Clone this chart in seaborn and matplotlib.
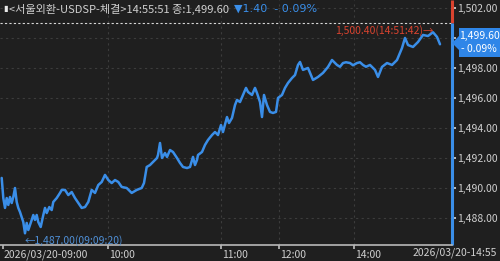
import numpy as np
import pandas as pd
import seaborn as sns
import matplotlib
matplotlib.use("Agg")
import matplotlib.pyplot as plt
import matplotlib.transforms as mtransforms
from matplotlib.patches import Polygon

# ---- data (tick index along the chart's x-axis, price) ----
tick_idx = [1.7, 3.3, 5, 6.7, 8.3, 10, 11.7, 13.3, 15, 16.7, 18.3, 20, 23.3, 25, 26.7, 28.3,
            30, 31.7, 33.3, 35, 36.7, 38.3, 40.7, 43.3, 45, 46.7, 49.3, 51.7, 53.3, 56.7, 60,
            61.7, 65, 68.3, 71.7, 75, 78.3, 81.7, 85, 88.3, 91.7, 95, 98.3, 101.7, 105, 108.3,
            111.7, 115, 118.3, 121.7, 126.7, 131.7, 136.7, 141.7, 144, 146.7, 150, 153, 157,
            158, 160, 162, 165, 167, 170, 173, 177, 180, 183, 187, 190, 193, 195, 197, 198,
            202, 205, 208, 212, 215, 218, 221, 223, 227, 229, 232, 235, 237, 240, 243, 246,
            248, 252, 255, 257, 260, 262, 264, 267, 270, 273, 276, 278, 282, 285, 288, 292,
            295, 298, 300, 303, 308, 313, 318, 323, 328, 332, 337, 340, 343, 346, 350, 353,
            357, 360, 363, 366, 370, 375, 378, 382, 387, 392, 397, 402, 405, 408, 413, 418,
            423, 428, 433, 437, 440]
price = [1490.69, 1489.35, 1488.69, 1489.35, 1488.89, 1489.42, 1489.02, 1489.42, 1490.02,
         1489.09, 1488.69, 1488.42, 1487.75, 1487.00, 1487.69, 1487.22, 1487.55, 1487.89,
         1488.22, 1487.89, 1488.22, 1487.75, 1487.42, 1488.22, 1488.69, 1488.35, 1488.75,
         1488.55, 1489.09, 1489.35, 1489.69, 1489.89, 1489.89, 1489.55, 1489.75, 1489.35,
         1489.02, 1488.69, 1488.75, 1489.09, 1489.89, 1489.69, 1490.22, 1490.42, 1490.89,
         1490.55, 1490.35, 1490.55, 1490.42, 1490.09, 1490.02, 1489.69, 1489.89, 1490.02,
         1490.35, 1491.42, 1491.55, 1491.75, 1492.02, 1492.22, 1493.02, 1492.02, 1492.35,
         1492.09, 1492.55, 1492.42, 1492.02, 1491.69, 1491.42, 1491.35, 1491.42, 1492.09,
         1491.55, 1491.89, 1492.22, 1492.42, 1492.89, 1493.22, 1493.55, 1493.75, 1493.55,
         1494.22, 1493.75, 1494.75, 1494.35, 1494.69, 1495.55, 1495.89, 1495.75, 1496.22,
         1496.69, 1496.42, 1496.22, 1496.69, 1496.35, 1495.75, 1494.75, 1496.22, 1495.55,
         1495.09, 1495.02, 1495.09, 1496.02, 1496.22, 1496.69, 1497.02, 1497.35, 1497.55,
         1498.22, 1498.42, 1497.89, 1498.02, 1497.22, 1497.42, 1497.69, 1498.09, 1498.55,
         1498.22, 1498.10, 1498.35, 1498.40, 1498.35, 1498.20, 1498.35, 1498.40, 1498.22,
         1498.10, 1498.22, 1497.89, 1497.42, 1498.09, 1498.35, 1498.22, 1498.55, 1499.35,
         1500.02, 1499.55, 1499.42, 1499.75, 1500.22, 1500.15, 1500.40, 1500.09, 1499.60]

time_tick_pos = [3, 108, 221, 279, 354]
time_tick_labels = ["2026/03/20-09:00", "10:00", "11:00", "12:00", "14:00"]
end_label = "2026/03/20-14:55"
price_ticks = [1488, 1490, 1492, 1494, 1496, 1498, 1500, 1502]
prev_close = 1501.00
last_price = 1499.60
change = -1.40
change_pct = -0.09
high_label = "1,500.40(14:51:42)"
low_label = "1,487.00(09:09:20)"
title_main = "<서울외환-USDSP-체결>14:55:51 종:1,499.60"

df = pd.DataFrame({"idx": tick_idx, "price": price})

BG = "#1f1f1f"
BLUE = "#3a8ee8"
RED = "#d9432f"
TXT = "#cfcfcf"
GRID = "#3c3c3c"
FS = 7.5

sns.set_theme(style="dark")
plt.rcParams["font.family"] = ["Liberation Sans Narrow", "Noto Sans CJK KR", "DejaVu Sans"]

W, H = 500, 261
fig = plt.figure(figsize=(5, 2.61), dpi=100, facecolor=BG)
ax = fig.add_axes([0, 16 / H, 452 / W, 245 / H], facecolor=BG)

sns.lineplot(data=df, x="idx", y="price", ax=ax, color=BLUE, linewidth=1.8, estimator=None,
             sort=False)

ax.set_xlim(0, 452)
ax.set_ylim(1486.22, 1502.55)

# grid
for t in price_ticks:
    ax.axhline(t, color=GRID, lw=0.8, ls=(0, (2, 3)), zorder=0)
for t in time_tick_pos[1:]:
    ax.axvline(t, color=GRID, lw=0.8, ls=(0, (2, 3)), zorder=0)
ax.axhline(prev_close, color="#d8d8d8", lw=0.8, ls=(0, (2, 2)), zorder=1)

for s in ["top", "left", "right"]:
    ax.spines[s].set_visible(False)
ax.spines["bottom"].set_visible(True)
ax.spines["bottom"].set_color("#b8b8b8")
ax.spines["bottom"].set_linewidth(1.2)

ax.set_xticks(time_tick_pos)
ax.set_xticklabels(time_tick_labels, ha="left", va="top", color=TXT, fontsize=FS)
ax.tick_params(axis="x", direction="out", length=3, color="#b8b8b8", pad=0.5, bottom=True)
offs = mtransforms.ScaledTranslation(1.0 / 100, 0, fig.dpi_scale_trans)
for lbl in ax.get_xticklabels():
    lbl.set_transform(lbl.get_transform() + offs)

ax.yaxis.tick_right()
ax.set_yticks(price_ticks)
# the 1,500.00 label sits under the last-price callout, so it is not shown
ax.set_yticklabels(["" if v == 1500 else f"{v:,.2f}" for v in price_ticks], color=TXT,
                   fontsize=FS)
ax.tick_params(axis="y", direction="out", length=3, color=TXT, pad=1, right=True, left=False)
ax.set_xlabel("")
ax.set_ylabel("")

# right axis line: red above previous close, blue below
ax.plot([1, 1], [prev_close, 1502.55], transform=ax.get_yaxis_transform(), color=RED, lw=2.2,
        clip_on=False, solid_capstyle="butt")
ax.plot([1, 1], [1486.22, prev_close], transform=ax.get_yaxis_transform(), color=BLUE, lw=2.2,
        clip_on=False, solid_capstyle="butt")

# high / low annotations
hi_i = int(np.argmax(price))
lo_i = int(np.argmin(price))
ax.annotate(high_label + "→", xy=(tick_idx[hi_i], price[hi_i]), xytext=(0, 1),
            textcoords="offset points", ha="right", va="center", color=RED, fontsize=FS)
ax.annotate("←" + low_label, xy=(tick_idx[lo_i], price[lo_i]), xytext=(0, -5),
            textcoords="offset points", ha="left", va="center", color="#4f8fd6", fontsize=FS)

# title
fig.text(3 / W, 1 - 9 / H, "▮", color="#e8e8e8", fontsize=6, va="center", ha="left",
         family=["DejaVu Sans"])
t1 = fig.text(9 / W, 1 - 9 / H, title_main, color=TXT, fontsize=8, va="center", ha="left")
fig.canvas.draw()
bb = t1.get_window_extent()
fig.text((bb.x1 + 5) / W, 1 - 9 / H, f"▼{abs(change):.2f}  - {abs(change_pct):.2f}%",
         color=BLUE, fontsize=8, va="center", ha="left",
         family=["Liberation Sans Narrow", "DejaVu Sans"])

# last price callout
poly = [(452, 43), (459, 36), (459, 28), (500, 28), (500, 57), (459, 57), (459, 50)]
poly = [(x / W, 1 - y / H) for x, y in poly]
fig.patches.append(Polygon(poly, closed=True, transform=fig.transFigure, fc="#2f86e8",
                           ec="none", zorder=5))
fig.text(479 / W, 1 - 36 / H, f"{last_price:,.2f}", color="white", fontsize=FS,
         ha="center", va="center", zorder=6)
fig.text(479 / W, 1 - 49 / H, f"- {abs(change_pct):.2f}%", color="white", fontsize=FS,
         ha="center", va="center", zorder=6)

# end-of-axis date label
fig.text(497 / W, 1 - 253 / H, end_label, color=TXT, fontsize=FS, ha="right", va="center")

fig.savefig("out.png", dpi=100, facecolor=BG)
